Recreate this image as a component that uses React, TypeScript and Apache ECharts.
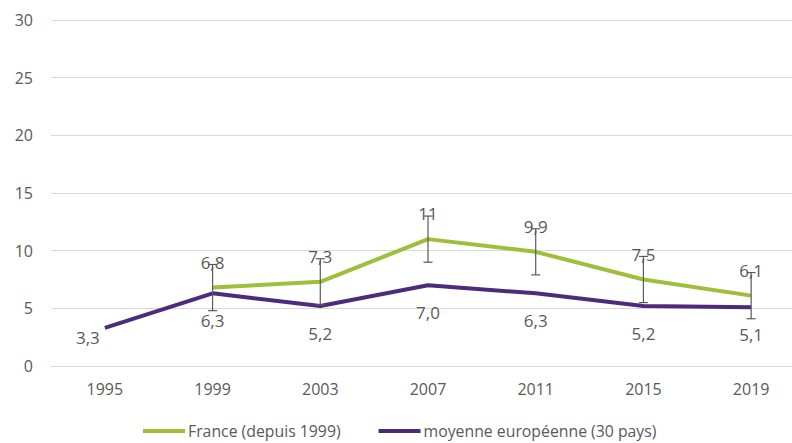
import React, { useEffect, useRef } from "react";
import * as echarts from "echarts";

const years = ["1995", "1999", "2003", "2007", "2011", "2015", "2019"];
const france = [null, 6.8, 7.3, 11, 9.9, 7.5, 6.1];
const franceLow = [null, 4.8, 5.3, 9.0, 7.9, 5.5, 4.1];
const franceHigh = [null, 8.8, 9.3, 13.0, 11.9, 9.5, 8.1];
const europe = [3.3, 6.3, 5.2, 7.0, 6.3, 5.2, 5.1];
const yTicks = [0, 5, 10, 15, 20, 25, 30];

const fmt = (v: number) => (Number.isInteger(v) && v >= 10 ? String(v) : v.toFixed(1).replace(".", ","));

export default function App() {
  const ref = useRef<HTMLDivElement>(null);
  useEffect(() => {
    const chart = echarts.init(ref.current!, null, { renderer: "svg" });
    const font = "'Open Sans', 'Liberation Sans', sans-serif";
    const errData = years
      .map((_, i) => (france[i] == null ? null : [i, franceLow[i], franceHigh[i]]))
      .filter((d) => d != null);
    chart.setOption({
      animation: false,
      textStyle: { fontFamily: font },
      grid: { left: 51, width: 754, top: 20, height: 346, outerBoundsMode: "none", containLabel: false },
      legend: {
        data: ["France (depuis 1999)", "moyenne européenne (30 pays)"],
        top: 418,
        left: 138,
        icon: "rect",
        itemWidth: 42,
        itemHeight: 4,
        itemGap: 38,
        textStyle: { color: "#595959", fontSize: 15.8, fontFamily: font, padding: [0, 0, 0, -2] },
      },
      xAxis: {
        type: "category",
        data: years,
        axisLine: { lineStyle: { color: "#d9d9d9" } },
        axisTick: { show: false },
        axisLabel: { color: "#595959", fontSize: 16, margin: 15 },
      },
      yAxis: {
        type: "value",
        min: yTicks[0],
        max: yTicks[yTicks.length - 1],
        interval: 5,
        splitLine: { lineStyle: { color: "#d9d9d9" } },
        axisLabel: { color: "#595959", fontSize: 16, margin: 18 },
      },
      series: [
        {
          name: "France (depuis 1999)",
          type: "line",
          data: france,
          color: "#9fbe3a",
          lineStyle: { width: 4, color: "#9fbe3a" },
          symbol: "circle",
          symbolSize: 0,
          showSymbol: true,
          label: {
            show: true,
            position: "top",
            distance: 17,
            color: "#595959",
            fontSize: 17,
            formatter: (p: any) => fmt(p.value),
          },
          z: 3,
        },
        {
          name: "moyenne européenne (30 pays)",
          type: "line",
          data: europe.map((v, i) =>
            i === 0 ? { value: v, label: { offset: [-17, -18] } } : v
          ),
          color: "#4e2a7a",
          lineStyle: { width: 4, color: "#4e2a7a" },
          symbol: "circle",
          symbolSize: 0,
          showSymbol: true,
          label: {
            show: true,
            position: "bottom",
            distance: 19,
            color: "#595959",
            fontSize: 17,
            formatter: (p: any) => fmt(p.value),
          },
          z: 3,
        },
        {
          name: "err",
          type: "custom",
          data: errData,
          z: 4,
          renderItem: (params: any, api: any) => {
            const x = api.value(0);
            const lo = api.coord([x, api.value(1)]);
            const hi = api.coord([x, api.value(2)]);
            const hw = 4.5;
            const style = { stroke: "#595959", lineWidth: 1.2 };
            return {
              type: "group",
              children: [
                { type: "line", shape: { x1: lo[0], y1: lo[1], x2: hi[0], y2: hi[1] }, style },
                { type: "line", shape: { x1: lo[0] - hw, y1: lo[1], x2: lo[0] + hw, y2: lo[1] }, style },
                { type: "line", shape: { x1: hi[0] - hw, y1: hi[1], x2: hi[0] + hw, y2: hi[1] }, style },
              ],
            };
          },
        },
      ],
    });
    return () => chart.dispose();
  }, []);
  return <div ref={ref} style={{ width: 792, height: 443, position: "absolute", left: 0, top: 0 }} />;
}
